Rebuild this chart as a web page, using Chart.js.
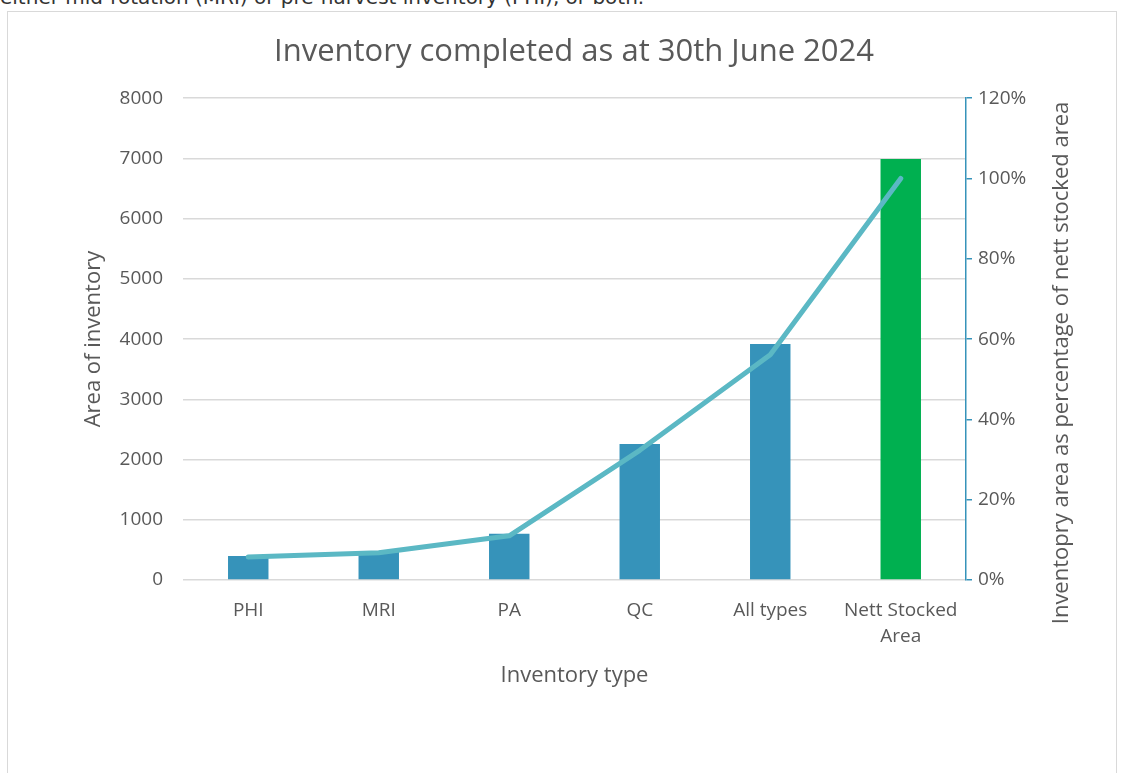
<!DOCTYPE html>
<html>
<head>
<meta charset="utf-8">
<script src="https://cdn.jsdelivr.net/npm/chart.js@4.4.1/dist/chart.umd.js"></script>
<style>
  html, body { margin: 0; padding: 0; background: #fff; overflow: hidden; }
  body { width: 1125px; height: 773px; position: relative; }
  .lead { position: absolute; left: 0; top: -15px; font: 20px "DejaVu Sans", sans-serif; color: #333; white-space: nowrap; }
  .box { position: absolute; left: 7px; top: 11px; width: 1110px; height: 780px; border: 1.5px solid #d9d9d9; box-sizing: border-box; }
  .wrap { position: absolute; left: 9px; top: 12px; width: 1130px; height: 761px; }
</style>
</head>
<body>
<div class="lead">either mid-rotation (MRI) or pre-harvest inventory (PHI), or both.</div>
<div class="box"></div>
<div class="wrap"><canvas id="c"></canvas></div>
<script>
const categories = ['PHI', 'MRI', 'PA', 'QC', 'All types', ['Nett Stocked', 'Area']];
const areaValues = [400, 470, 770, 2260, 3920, 6990];
const pctValues = [0.057, 0.068, 0.110, 0.323, 0.561, 1.0];
const barColours = ['#3693ba', '#3693ba', '#3693ba', '#3693ba', '#3693ba', '#00b050'];

const FONT = '"Open Sans", sans-serif';
const GREY = '#595959';

// right axis title reads bottom-to-top in the original, so draw it ourselves
const rightTitle = {
  id: 'rightTitle',
  afterDraw(chart) {
    const ctx = chart.ctx;
    ctx.save();
    ctx.translate(1053, 351);
    ctx.rotate(-Math.PI / 2);
    ctx.font = '22px ' + FONT;
    ctx.fillStyle = GREY;
    ctx.textAlign = 'center';
    ctx.textBaseline = 'middle';
    ctx.fillText('Inventopry area as percentage of nett stocked area', 0, 0);
    ctx.restore();
  }
};

new Chart(document.getElementById('c'), {
  type: 'bar',
  data: {
    labels: categories,
    datasets: [
      {
        type: 'line',
        data: pctValues,
        yAxisID: 'y1',
        borderColor: '#5bb8c4',
        borderWidth: 5,
        borderCapStyle: 'round',
        borderJoinStyle: 'round',
        pointRadius: 0,
        tension: 0,
        order: 0
      },
      {
        data: areaValues,
        yAxisID: 'y',
        backgroundColor: barColours,
        categoryPercentage: 1,
        barPercentage: 0.31,
        order: 1
      }
    ]
  },
  options: {
    responsive: true,
    maintainAspectRatio: false,
    animation: false,
    layout: { padding: 0 },
    plugins: {
      legend: { display: false },
      tooltip: { enabled: false },
      title: {
        display: true,
        text: 'Inventory completed as at 30th June 2024',
        color: GREY,
        font: { family: FONT, size: 31, weight: 'normal' },
        padding: { top: 22, bottom: 27 }
      }
    },
    scales: {
      x: {
        grid: { display: false },
        border: { display: false },
        ticks: { color: GREY, font: { family: FONT, size: 19, lineHeight: '26px' }, padding: 10, maxRotation: 0, autoSkip: false },
        title: { display: true, text: 'Inventory type', color: GREY, font: { family: FONT, size: 22 }, padding: { top: 0, bottom: 84 } },
        afterFit(s) { s.height = 193; }
      },
      y: {
        position: 'left',
        min: 0, max: 8000,
        ticks: { stepSize: 1000, color: GREY, font: { family: FONT, size: 19 }, padding: 20, callback: v => String(v) },
        grid: { color: '#d9d9d9', lineWidth: 1.5, drawTicks: false },
        border: { display: false },
        title: { display: true, text: 'Area of inventory', color: GREY, font: { family: FONT, size: 22 }, padding: { top: 72, bottom: 0 } },
        afterFit(s) { s.width = 174; }
      },
      y1: {
        position: 'right',
        min: 0, max: 1.2,
        ticks: {
          stepSize: 0.2, color: GREY, font: { family: FONT, size: 19 }, padding: 6,
          callback: v => Math.round(v * 100) + '%'
        },
        grid: { drawOnChartArea: false, color: '#3693ba', lineWidth: 1.5, tickLength: 6 },
        border: { color: '#3693ba', width: 1.5 },
        afterFit(s) { s.width = 173; }
      }
    }
  },
  plugins: [rightTitle]
});
</script>
</body>
</html>
